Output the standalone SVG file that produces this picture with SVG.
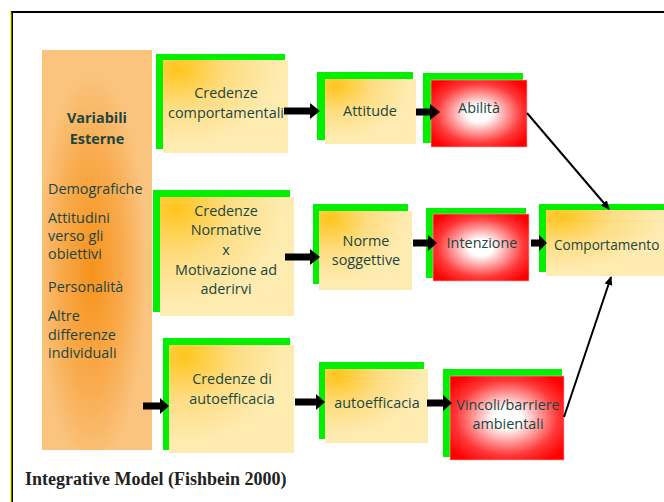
<svg xmlns="http://www.w3.org/2000/svg" width="664" height="502" viewBox="0 0 664 502">
<style>
  .t { font-family: "Open Sans", "Liberation Sans", sans-serif; font-size: 14.4px; fill: #1A463F; }
  .c { text-anchor: middle; }
  .b { font-weight: bold; }
  .g { fill: #00F000; }
  .y { fill: url(#gold); }
  .r { fill: url(#red); stroke: #FFB0B0; stroke-width: 0.6; }
  .blk { fill: #000; }
  .ln { stroke: #000; stroke-width: 2; fill: none; marker-end: url(#ah); }
  .cap { font-family: "Liberation Serif", serif; font-weight: bold; font-size: 18px; fill: #222; }
</style>
<defs>
  <radialGradient id="gold" cx="0.12" cy="0.1" r="0.8">
    <stop offset="0" stop-color="#FFC51C"/>
    <stop offset="0.5" stop-color="#FEDD82"/>
    <stop offset="1" stop-color="#FEEBB0"/>
  </radialGradient>
  <radialGradient id="red" cx="0.5" cy="0.5" r="0.62">
    <stop offset="0" stop-color="#FFFFFF"/>
    <stop offset="0.2" stop-color="#FFFFFF"/>
    <stop offset="0.72" stop-color="#FF3838"/>
    <stop offset="1" stop-color="#FF0000"/>
  </radialGradient>
  <radialGradient id="orange" cx="0.45" cy="0.55" r="0.5">
    <stop offset="0" stop-color="#F7921A"/>
    <stop offset="0.6" stop-color="#F9AC50"/>
    <stop offset="1" stop-color="#FAC47F"/>
  </radialGradient>
  <marker id="ah" markerWidth="10" markerHeight="10" refX="8" refY="4" orient="auto" markerUnits="userSpaceOnUse">
    <path d="M0,0 L9,4 L0,8 Z" fill="#000"/>
  </marker>
</defs>

<!-- frame -->
<rect x="10" y="11" width="1.4" height="491" fill="#FFFF00"/>
<rect x="11.4" y="11" width="1.6" height="491" fill="#000"/>
<rect x="11.4" y="11" width="652.6" height="2" fill="#000"/>

<g id="variabili-esterne">
  <rect x="42" y="50" width="110" height="400" fill="url(#orange)"/>
  <text class="t c b" x="97" y="123">Variabili</text>
  <text class="t c b" x="97" y="144">Esterne</text>
  <text class="t" x="48" y="194">Demografiche</text>
  <text class="t" x="48" y="223">Attitudini</text>
  <text class="t" x="48" y="241">verso gli</text>
  <text class="t" x="48" y="259">obiettivi</text>
  <text class="t" x="48" y="292">Personalità</text>
  <text class="t" x="48" y="321">Altre</text>
  <text class="t" x="48" y="340">differenze</text>
  <text class="t" x="48" y="358">individuali</text>
</g>

<g id="credenze-comportamentali">
  <rect class="g" x="156" y="54" width="129" height="95"/>
  <rect class="y" x="163" y="60" width="125" height="93"/>
  <text class="t c" x="226" y="98">Credenze</text>
  <text class="t c" x="226" y="118">comportamentali</text>
</g>

<g id="attitude">
  <rect class="g" x="317" y="72" width="96" height="68"/>
  <rect class="y" x="325" y="79" width="91" height="65"/>
  <text class="t c" x="370" y="116">Attitude</text>
</g>

<g id="abilita">
  <rect class="g" x="423" y="73" width="100" height="70"/>
  <rect class="r" x="431" y="80" width="96" height="67"/>
  <text class="t c" x="479" y="113">Abilità</text>
</g>

<g id="credenze-normative">
  <rect class="g" x="153" y="190" width="137" height="122"/>
  <rect class="y" x="160" y="197" width="134" height="119"/>
  <text class="t c" x="226" y="216">Credenze</text>
  <text class="t c" x="226" y="235">Normative</text>
  <text class="t c" x="226" y="255">x</text>
  <text class="t c" x="226" y="275">Motivazione ad</text>
  <text class="t c" x="226" y="294">aderirvi</text>
</g>

<g id="norme-soggettive">
  <rect class="g" x="313" y="204" width="95" height="80"/>
  <rect class="y" x="319" y="211" width="93" height="79"/>
  <text class="t c" x="366" y="246">Norme</text>
  <text class="t c" x="366" y="265">soggettive</text>
</g>

<g id="intenzione">
  <rect class="g" x="426" y="208" width="100" height="70"/>
  <rect class="r" x="433" y="214" width="96" height="67"/>
  <text class="t c" x="482" y="248">Intenzione</text>
</g>

<g id="comportamento">
  <rect class="g" x="539" y="204" width="130" height="68"/>
  <rect class="y" x="546" y="210" width="125" height="66"/>
  <text class="t" x="554" y="250" style="font-size:13.6px">Comportamento</text>
</g>

<g id="credenze-autoefficacia">
  <rect class="g" x="163" y="338" width="127" height="112"/>
  <rect class="y" x="169" y="345" width="125" height="108"/>
  <text class="t c" x="232" y="384">Credenze di</text>
  <text class="t c" x="232" y="404">autoefficacia</text>
</g>

<g id="autoefficacia">
  <rect class="g" x="319" y="362" width="105" height="77"/>
  <rect class="y" x="325" y="369" width="103" height="74"/>
  <text class="t c" x="377" y="408">autoefficacia</text>
</g>

<g id="vincoli">
  <rect class="g" x="443" y="369" width="119" height="88"/>
  <rect class="r" x="450" y="376" width="114" height="84"/>
  <text class="t c" x="508" y="410">Vincoli/barriere</text>
  <text class="t c" x="508" y="429">ambientali</text>
</g>

<g id="connectors">
  <path class="blk" d="M284,107.5 H310 V103 L320,111 L310,119 V114.5 H284 Z"/>
  <path class="blk" d="M416,108.5 H430 V104 L440,112 L430,120 V115.5 H416 Z"/>
  <path class="blk" d="M285,253.5 H310 V249 L320,257 L310,265 V260.5 H285 Z"/>
  <path class="blk" d="M413,239.5 H428 V235 L437,243 L428,251 V246.5 H413 Z"/>
  <path class="blk" d="M531,239.5 H539 V235 L547,243 L539,251 V246.5 H531 Z"/>
  <path class="blk" d="M143,402.5 H160 V398 L169,406 L160,414 V409.5 H143 Z"/>
  <path class="blk" d="M295,398.5 H316 V394 L325,402 L316,410 V405.5 H295 Z"/>
  <path class="blk" d="M427,399.5 H443 V395 L452,403 L443,411 V406.5 H427 Z"/>
  <line class="ln" x1="527" y1="113" x2="609" y2="209"/>
  <line class="ln" x1="564" y1="417" x2="611" y2="277"/>
</g>

<text class="cap" x="25" y="485">Integrative Model (Fishbein 2000)</text>
</svg>
